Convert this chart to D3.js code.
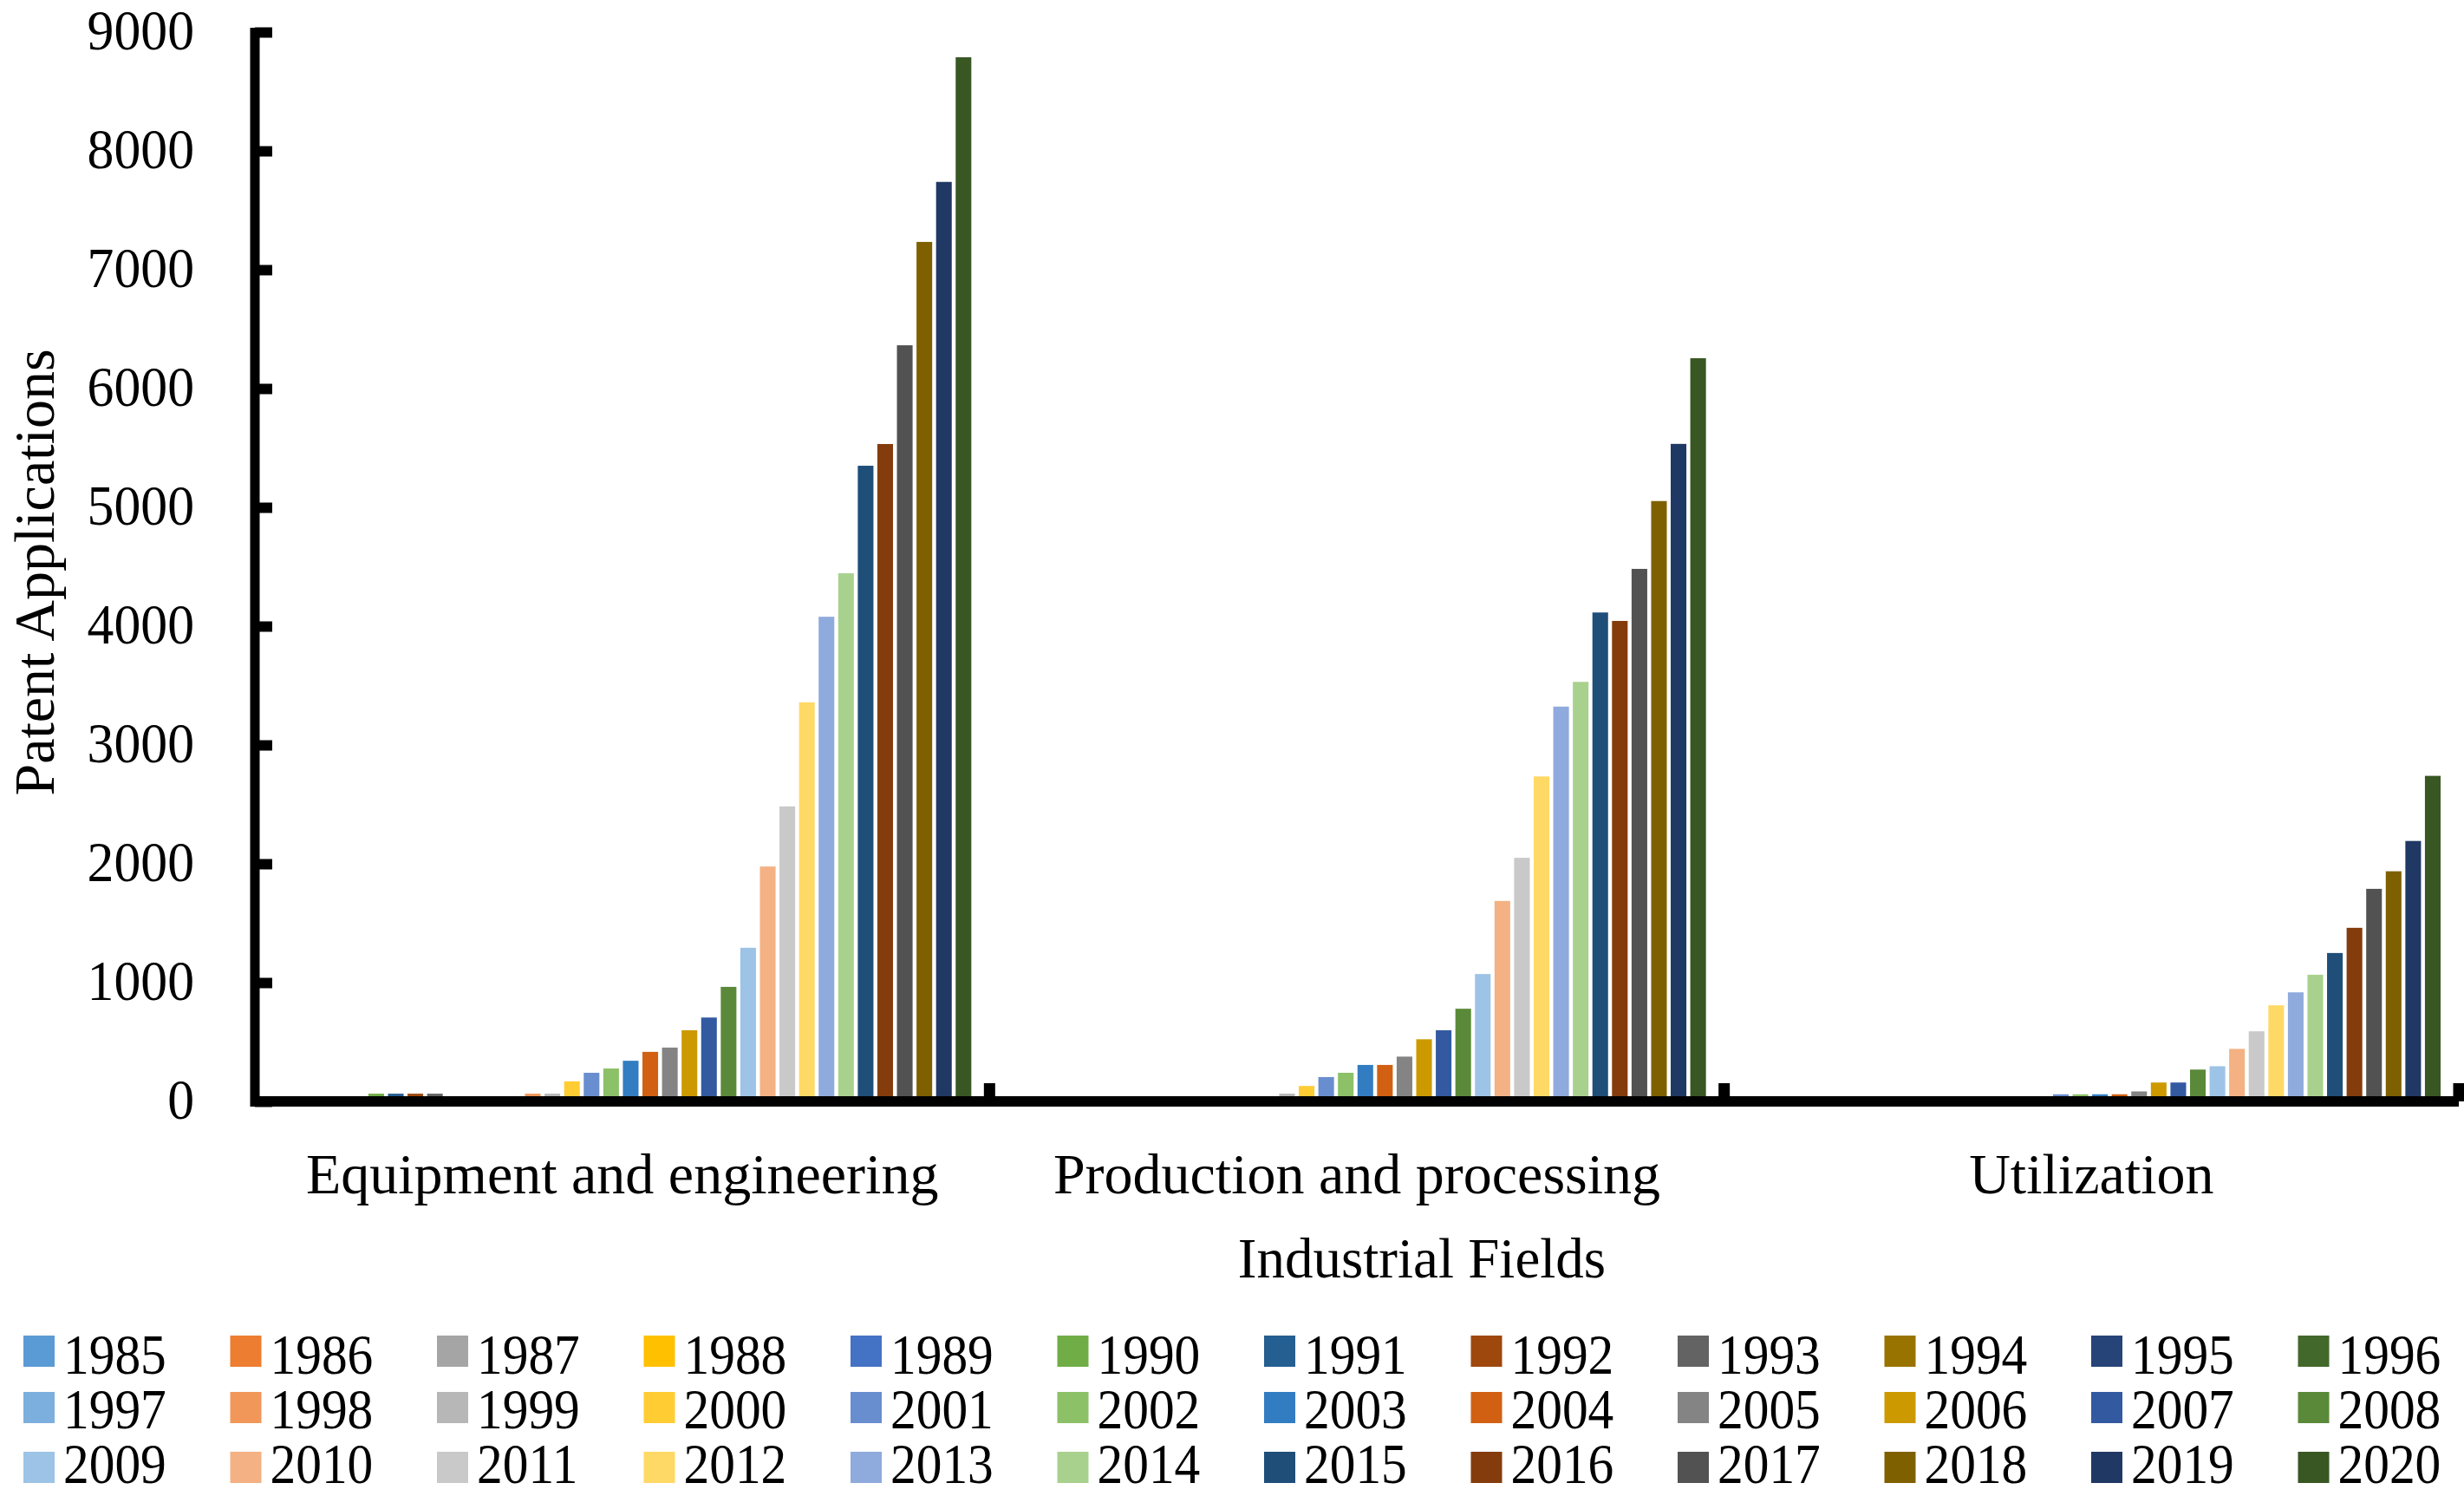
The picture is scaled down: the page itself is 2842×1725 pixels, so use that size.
<!DOCTYPE html>
<html>
<head>
<meta charset="utf-8">
<script src="https://cdn.jsdelivr.net/npm/d3@7"></script>
<style>
  body { margin: 0; background: #fff; }
  svg text { font-family: 'Liberation Serif', 'Times New Roman', serif; fill: #000; }
</style>
</head>
<body>
<svg id="chart" width="2842" height="1725"></svg>
<script>
// categories and series
const fields = ['Equipment and engineering', 'Production and processing', 'Utilization']
const years = [1985, 1986, 1987, 1988, 1989, 1990, 1991, 1992, 1993, 1994, 1995, 1996,
  1997, 1998, 1999, 2000, 2001, 2002, 2003, 2004, 2005, 2006, 2007, 2008,
  2009, 2010, 2011, 2012, 2013, 2014, 2015, 2016, 2017, 2018, 2019, 2020]

// patent applications per year, one array per industrial field
const equipment = [0, 0, 0, 0, 0, 65, 65, 65, 65, 20, 20, 20,
  20, 65, 65, 169, 241, 277, 342, 417, 453, 599, 706, 964,
  1293, 1977, 2483, 3359, 4079, 4445, 5350, 5533, 6364, 7234, 7739, 8788]
const production = [0, 0, 0, 0, 0, 0, 0, 0, 0, 0, 0, 0,
  0, 0, 65, 130, 205, 241, 307, 307, 377, 523, 599, 780,
  1072, 1687, 2050, 2735, 3323, 3531, 4115, 4044, 4482, 5053, 5534, 6255]
const utilization = [0, 0, 0, 0, 0, 0, 0, 0, 0, 0, 0, 0,
  0, 0, 0, 0, 60, 60, 60, 60, 84, 159, 159, 268,
  296, 442, 590, 809, 918, 1066, 1249, 1461, 1789, 1937, 2192, 2740]

const yTicks = [0, 1000, 2000, 3000, 4000, 5000, 6000, 7000, 8000, 9000]

const colors = ['#5B9BD5', '#ED7D31', '#A5A5A5', '#FFC000', '#4472C4', '#70AD47',
  '#255E91', '#9E480E', '#636363', '#997300', '#264478', '#43682B',
  '#7CAFDD', '#F1975A', '#B7B7B7', '#FFCD33', '#698ED0', '#8CC168',
  '#327DC2', '#D26012', '#848484', '#CC9A00', '#335AA1', '#5A8A39',
  '#9DC3E6', '#F4B183', '#C9C9C9', '#FFD966', '#8FAADC', '#A9D18E',
  '#1F4E79', '#843C0C', '#525252', '#7F6000', '#203864', '#385723']

const seriesByField = [equipment, production, utilization]

const svg = d3.select('#chart')
const left = 294
const right = 2836
const zeroY = 1270
const topY = 37
const serif = "'Liberation Serif', 'Times New Roman', serif"

const x0 = d3.scaleBand().domain(fields).range([left, right]).padding(0)
const x1 = d3.scaleBand().domain(years).range([18, x0.bandwidth() - 21]).paddingInner(0.2).paddingOuter(0)
const y = d3.scaleLinear().domain([0, 9000]).range([zeroY, topY])
const color = d3.scaleOrdinal().domain(years).range(colors)

// bars
const groups = svg.append('g')
  .selectAll('g')
  .data(fields)
  .join('g')
  .attr('transform', (d) => `translate(${x0(d)},0)`)

groups.selectAll('rect')
  .data((d, i) => years.map((yr, j) => ({ year: yr, value: seriesByField[i][j] })))
  .join('rect')
  .attr('x', (d) => x1(d.year))
  .attr('width', x1.bandwidth())
  .attr('y', (d) => y(d.value))
  .attr('height', (d) => zeroY - y(d.value))
  .attr('fill', (d) => color(d.year))

// y axis
const yAxis = svg.append('g')
  .attr('transform', `translate(${left},0)`)
  .call(d3.axisLeft(y).tickValues(yTicks).tickFormat(d3.format('d'))
    .tickSizeInner(-20).tickSizeOuter(0).tickPadding(0))
yAxis.select('.domain').attr('stroke', '#000').attr('stroke-width', 11).attr('d', `M0,${topY - 5}V${zeroY + 6}`)
yAxis.selectAll('.tick line').attr('stroke', '#000').attr('stroke-width', 12).attr('x1', 0)
yAxis.selectAll('.tick text')
  .attr('x', 0)
  .attr('dy', 0)
  .attr('transform', 'translate(-70,19) scale(0.95,1)')
  .style('font-family', serif)
  .style('font-size', '65px')

// x axis
const xAxis = svg.append('g')
  .attr('transform', `translate(0,${zeroY})`)
  .call(d3.axisBottom(x0).tickSize(0).tickPadding(0))
xAxis.select('.domain').attr('stroke', '#000').attr('stroke-width', 12).attr('d', `M${left - 5},0H${right}`)
xAxis.selectAll('.tick text')
  .style('font-family', serif)
  .style('font-size', '66px')
  .attr('y', 106)
  .attr('dy', 0)

// separator ticks between fields
svg.append('g')
  .selectAll('line')
  .data(fields)
  .join('line')
  .attr('x1', (d) => x0(d) + x0.bandwidth())
  .attr('x2', (d) => x0(d) + x0.bandwidth())
  .attr('y1', zeroY)
  .attr('y2', zeroY - 21)
  .attr('stroke', '#000')
  .attr('stroke-width', 13)

// axis titles
svg.append('text')
  .attr('x', 1640)
  .attr('y', 1473)
  .attr('text-anchor', 'middle')
  .style('font-family', serif)
  .style('font-size', '65px')
  .text('Industrial Fields')

svg.append('text')
  .attr('transform', 'translate(62,660) rotate(-90)')
  .attr('text-anchor', 'middle')
  .style('font-family', serif)
  .style('font-size', '66px')
  .text('Patent Applications')

// legend, 12 columns x 3 rows
const swatchRows = [1558, 1623, 1692]
const textRows = [1584, 1647, 1710]

const legend = svg.append('g')
  .selectAll('g')
  .data(years)
  .join('g')
  .attr('transform', (d, i) => `translate(${27 + (i % 12) * 238.5},0)`)

legend.append('rect')
  .attr('x', 0)
  .attr('y', (d, i) => swatchRows[Math.floor(i / 12)] - 18)
  .attr('width', 36)
  .attr('height', 36)
  .attr('fill', (d) => color(d))

legend.append('text')
  .attr('transform', (d, i) => `translate(46,${textRows[Math.floor(i / 12)]}) scale(0.9,1)`)
  .style('font-family', serif)
  .style('font-size', '66px')
  .text((d) => d)
</script>
</body>
</html>
